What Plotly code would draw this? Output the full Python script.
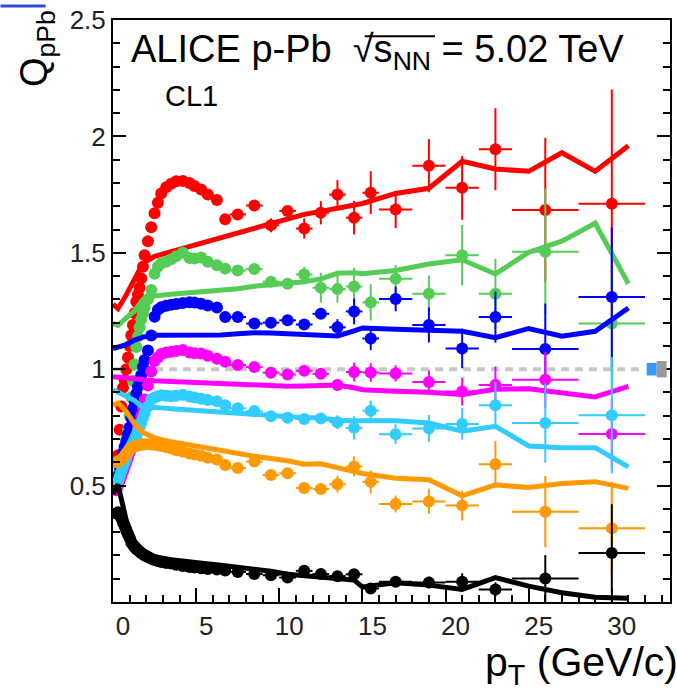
import plotly.graph_objects as go

# pT bin centres (GeV/c) and half-widths shared by all centrality classes
pt = [0.2, 0.3, 0.4, 0.5, 0.6, 0.7, 0.8, 0.9, 1.0, 1.1, 1.2, 1.3, 1.4, 1.5, 1.6, 1.7, 1.8, 1.9,
      2.1, 2.3, 2.5, 2.7, 2.9, 3.2, 3.5, 3.8, 4.2, 4.6, 4.9, 5.3, 5.7, 6.25,
      6.75, 7.5, 8.5, 9.5, 10.5, 11.5, 12.5, 13.5, 14.5, 15.5, 17, 19, 21, 23, 26, 30]
pt_hw = [0.05, 0.05, 0.05, 0.05, 0.05, 0.05, 0.05, 0.05, 0.05, 0.05, 0.05, 0.05, 0.05, 0.05, 0.05, 0.05, 0.05, 0.05,
         0.1, 0.1, 0.1, 0.1, 0.1, 0.15, 0.15, 0.15, 0.2, 0.2, 0.15, 0.2, 0.2, 0.25,
         0.25, 0.5, 0.5, 0.5, 0.5, 0.5, 0.5, 0.5, 0.5, 0.5, 1, 1, 1, 1, 2, 2]

# Q_pPb per centrality class
q_red = [0.53, 0.63, 0.74, 0.84, 0.92, 0.955, 1.0, 1.05, 1.10, 1.146, 1.19, 1.24, 1.29, 1.32, 1.35, 1.39, 1.44, 1.49,
         1.55, 1.61, 1.67, 1.715, 1.755, 1.782, 1.797, 1.807, 1.808, 1.80, 1.787, 1.772, 1.75, 1.727,
         1.644, 1.665, 1.703, 1.618, 1.68, 1.604, 1.672, 1.75, 1.651, 1.758, 1.686, 1.874, 1.779, 1.945, 1.684, 1.711]
q_green = [0.52, 0.55, 0.58, 0.61, 0.64, 0.67, 0.70, 0.74, 0.80, 0.88, 0.95, 1.02, 1.095, 1.14, 1.18, 1.215, 1.24, 1.265,
           1.30, 1.34, 1.41, 1.44, 1.455, 1.462, 1.472, 1.485, 1.50, 1.478, 1.476, 1.48, 1.462, 1.447,
           1.432, 1.424, 1.43, 1.376, 1.367, 1.407, 1.35, 1.344, 1.355, 1.287, 1.388, 1.324, 1.49, 1.324, 1.505, 1.196]
q_blue = [0.50, 0.54, 0.58, 0.61, 0.64, 0.665, 0.69, 0.72, 0.75, 0.79, 0.83, 0.86, 0.895, 0.925, 0.95, 0.975, 1.01, 1.04,
          1.08, 1.145, 1.225, 1.255, 1.266, 1.273, 1.277, 1.28, 1.284, 1.288, 1.286, 1.281, 1.274, 1.265,
          1.224, 1.224, 1.196, 1.20, 1.21, 1.192, 1.238, 1.18, 1.248, 1.132, 1.302, 1.19, 1.089, 1.224, 1.087, 1.31]
q_magenta = [0.48, 0.50, 0.52, 0.54, 0.56, 0.58, 0.60, 0.62, 0.64, 0.66, 0.68, 0.695, 0.715, 0.745, 0.77, 0.80, 0.835, 0.87,
             0.93, 0.99, 1.035, 1.05, 1.065, 1.072, 1.075, 1.078, 1.082, 1.072, 1.068, 1.067, 1.058, 1.045,
             1.032, 1.018, 1.009, 0.985, 0.977, 0.993, 0.98, 0.932, 0.988, 0.986, 0.982, 0.945, 0.904, 0.932, 0.955, 0.722]
q_cyan = [0.50, 0.52, 0.54, 0.56, 0.58, 0.60, 0.62, 0.64, 0.655, 0.67, 0.685, 0.70, 0.715, 0.735, 0.75, 0.77, 0.79, 0.81,
          0.84, 0.87, 0.878, 0.884, 0.888, 0.886, 0.884, 0.886, 0.89, 0.883, 0.878, 0.873, 0.868, 0.862,
          0.845, 0.832, 0.82, 0.798, 0.791, 0.786, 0.788, 0.772, 0.748, 0.822, 0.721, 0.745, 0.765, 0.845, 0.769, 0.802]
q_orange = [0.60, 0.603, 0.607, 0.612, 0.62, 0.628, 0.638, 0.648, 0.655, 0.66, 0.665, 0.668, 0.67, 0.672, 0.674, 0.676, 0.677, 0.678,
            0.678, 0.677, 0.675, 0.673, 0.67, 0.665, 0.66, 0.652, 0.645, 0.638, 0.634, 0.628, 0.62, 0.612,
            0.588, 0.576, 0.603, 0.546, 0.553, 0.49, 0.485, 0.506, 0.582, 0.516, 0.421, 0.432, 0.414, 0.592, 0.388, 0.317]
q_black = [0.38, 0.385, 0.375, 0.36, 0.34, 0.325, 0.305, 0.29, 0.275, 0.255, 0.245, 0.235, 0.228, 0.222, 0.216, 0.21, 0.205, 0.2,
           0.192, 0.186, 0.18, 0.176, 0.172, 0.168, 0.165, 0.16, 0.155, 0.15, 0.148, 0.145, 0.142, 0.14,
           0.135, 0.129, 0.12, 0.115, 0.105, 0.134, 0.12, 0.111, 0.119, 0.058, 0.087, 0.084, 0.087, 0.054, 0.101, 0.21]

# statistical uncertainties of the last 16 bins (6.75 - 30 GeV/c); lower bins are negligible
err_red = [0.01, 0.012, 0.018, 0.03, 0.02, 0.043, 0.05, 0.062, 0.072, 0.092, 0.08, 0.114, 0.137, 0.176, 0.31, 0.49]
err_green = [0.01, 0.012, 0.015, 0.02, 0.02, 0.033, 0.064, 0.057, 0.08, 0.078, 0.06, 0.078, 0.13, 0.15, 0.27, 0.3]
err_blue = [0.008, 0.01, 0.012, 0.015, 0.015, 0.02, 0.02, 0.035, 0.055, 0.05, 0.053, 0.075, 0.085, 0.11, 0.195, 0.3]
err_magenta = [0.008, 0.01, 0.01, 0.012, 0.015, 0.02, 0.02, 0.025, 0.04, 0.04, 0.035, 0.05, 0.06, 0.08, 0.12, 0.15]
err_cyan = [0.008, 0.01, 0.012, 0.015, 0.015, 0.02, 0.02, 0.03, 0.05, 0.043, 0.043, 0.058, 0.068, 0.1, 0.17, 0.25]
err_orange = [0.008, 0.01, 0.012, 0.015, 0.015, 0.02, 0.02, 0.036, 0.043, 0.05, 0.036, 0.053, 0.064, 0.1, 0.153, 0.2]
err_black = [0.005, 0.005, 0.006, 0.008, 0.008, 0.01, 0.01, 0.012, 0.015, 0.02, 0.02, 0.025, 0.036, 0.03, 0.1, 0.21]

# model curves
model_pt = [0, 0.3, 0.8, 1.3, 1.8, 2.5, 3.5, 4.5, 5.5, 6.5, 7.5, 8.5, 9.5, 10.5, 11.5, 12.5, 13.5, 14.5, 15,
            17, 19, 21, 23, 25, 27, 29, 31]
m_red = [1.28, 1.26, 1.32, 1.39, 1.455, 1.485, 1.505, 1.525, 1.545, 1.56, 1.585, 1.605, 1.625, 1.645, 1.665, 1.678,
         1.69, 1.705, 1.712, 1.755, 1.777, 1.893, 1.86, 1.85, 1.93, 1.85, 1.96]
m_green = [1.196, 1.188, 1.22, 1.25, 1.30, 1.315, 1.322, 1.328, 1.334, 1.338, 1.346, 1.356, 1.362, 1.37, 1.376, 1.388,
           1.412, 1.414, 1.41, 1.424, 1.452, 1.47, 1.409, 1.502, 1.55, 1.627, 1.367]
m_blue = [1.089, 1.095, 1.105, 1.125, 1.138, 1.146, 1.146, 1.146, 1.146, 1.147, 1.152, 1.157, 1.155, 1.153, 1.15, 1.146,
          1.143, 1.165, 1.177, 1.172, 1.168, 1.163, 1.135, 1.175, 1.142, 1.163, 1.263]
m_magenta = [0.968, 0.966, 0.96, 0.955, 0.952, 0.95, 0.947, 0.944, 0.94, 0.938, 0.936, 0.933, 0.93, 0.927, 0.928, 0.93,
             0.932, 0.92, 0.912, 0.905, 0.901, 0.891, 0.914, 0.916, 0.899, 0.881, 0.926]
m_cyan = [0.912, 0.90, 0.88, 0.865, 0.835, 0.836, 0.83, 0.825, 0.822, 0.818, 0.81, 0.804, 0.798, 0.794, 0.792, 0.79,
          0.781, 0.779, 0.779, 0.779, 0.769, 0.734, 0.755, 0.67, 0.663, 0.663, 0.58]
m_orange = [0.845, 0.855, 0.818, 0.765, 0.728, 0.705, 0.688, 0.675, 0.662, 0.652, 0.64, 0.626, 0.616, 0.607, 0.592,
            0.594, 0.577, 0.562, 0.552, 0.532, 0.525, 0.456, 0.503, 0.492, 0.509, 0.517, 0.488]
m_black = [0.464, 0.505, 0.35, 0.26, 0.222, 0.195, 0.182, 0.172, 0.165, 0.158, 0.15, 0.144, 0.132, 0.119, 0.114,
           0.108, 0.10, 0.094, 0.065, 0.083, 0.0725, 0.054, 0.105, 0.068, 0.040, 0.020, 0.016]

# normalisation uncertainty boxes drawn at unity
norm_boxes = [(32.1, 32.7, 0.027, "#3399ff"), (32.7, 33.3, 0.035, "#999999")]

series = [
    ("#ff0000", q_red, err_red, m_red),
    ("#55cc55", q_green, err_green, m_green),
    ("#0000ff", q_blue, err_blue, m_blue),
    ("#ff00ff", q_magenta, err_magenta, m_magenta),
    ("#33ccff", q_cyan, err_cyan, m_cyan),
    ("#ff9900", q_orange, err_orange, m_orange),
    ("#000000", q_black, err_black, m_black),
]

fig = go.Figure()
n_low = len(pt) - len(err_red)
for color, q, err, model in series:
    fig.add_trace(go.Scatter(x=model_pt, y=model, mode="lines",
                             line=dict(color=color, width=5), hoverinfo="skip"))
    fig.add_trace(go.Scatter(
        x=pt, y=q, mode="markers",
        marker=dict(color=color, size=12, line=dict(width=0)),
        error_x=dict(type="data", array=pt_hw, thickness=2, width=0, color=color),
        error_y=dict(type="data", array=[0.0] * n_low + err, thickness=2, width=0, color=color),
    ))

shapes = [dict(type="line", xref="x", yref="y", x0=0, x1=31.9, y0=1, y1=1, layer="below",
               line=dict(color="#c8c8c8", width=4, dash="8px,6px"))]
for x0, x1, h, c in norm_boxes:
    shapes.append(dict(type="rect", xref="x", yref="y", x0=x0, x1=x1, y0=1 - h, y1=1 + h,
                       fillcolor=c, line=dict(width=0)))
# vinculum of the square root in the header
shapes.append(dict(type="line", xref="paper", yref="paper", x0=0.452, x1=0.578, y0=0.972, y1=0.972,
                   line=dict(color="black", width=2)))
# underline remnant at the upper-left corner of the page
shapes.append(dict(type="line", xref="paper", yref="paper", x0=-0.202, x1=-0.121, y0=1.024, y1=1.024,
                   line=dict(color="#2a4bd7", width=3)))

font = "Liberation Sans, Arial, Helvetica, sans-serif"
annotations = [
    dict(text="ALICE p-Pb  \u221as<sub>NN</sub> = 5.02 TeV", xref="paper", yref="paper",
         x=0.029, y=0.945, xanchor="left", yanchor="middle", showarrow=False,
         font=dict(size=38, family=font, color="black")),
    dict(text="CL1", xref="paper", yref="paper", x=0.089, y=0.870, xanchor="left", yanchor="middle",
         showarrow=False, font=dict(size=29, family=font, color="black")),
    dict(text="Q<sub>pPb</sub>", xref="paper", yref="paper", x=-0.136, y=1.02, xanchor="center",
         yanchor="top", textangle=-90, showarrow=False, font=dict(size=38, family=font, color="black")),
    dict(text="p<sub>T</sub> (GeV/c)", xref="paper", yref="paper", x=1.018, y=-0.108,
         xanchor="right", yanchor="middle", showarrow=False, font=dict(size=41, family=font, color="black")),
]

fig.update_layout(
    width=677, height=697,
    margin=dict(l=113, r=5, t=16, b=95),
    plot_bgcolor="white", paper_bgcolor="white",
    showlegend=False,
    shapes=shapes, annotations=annotations,
    font=dict(family=font, color="black"),
    xaxis=dict(range=[0, 33.5], showgrid=False, zeroline=False,
               showline=True, linecolor="black", linewidth=2, mirror=True,
               tickmode="array", tickvals=[0, 5, 10, 15, 20, 25, 30],
               ticks="inside", ticklen=14, tickwidth=1.5, tickcolor="black",
               tickfont=dict(size=26, color="#222222"), ticklabelshift=10,
               minor=dict(tickmode="linear", tick0=0, dtick=1, ticks="inside", ticklen=7,
                          tickwidth=1.5, tickcolor="black")),
    yaxis=dict(range=[0, 2.5], showgrid=False, zeroline=False,
               showline=True, linecolor="black", linewidth=2, mirror="ticks",
               tickmode="array", tickvals=[0.5, 1, 1.5, 2, 2.5], ticktext=["0.5", "1", "1.5", "2", "2.5"],
               ticks="inside", ticklen=13, tickwidth=1.5, tickcolor="black",
               tickfont=dict(size=26, color="#222222"),
               minor=dict(tickmode="linear", tick0=0, dtick=0.1, ticks="inside", ticklen=7,
                          tickwidth=1.5, tickcolor="black")),
)

fig.write_html("out.html")
